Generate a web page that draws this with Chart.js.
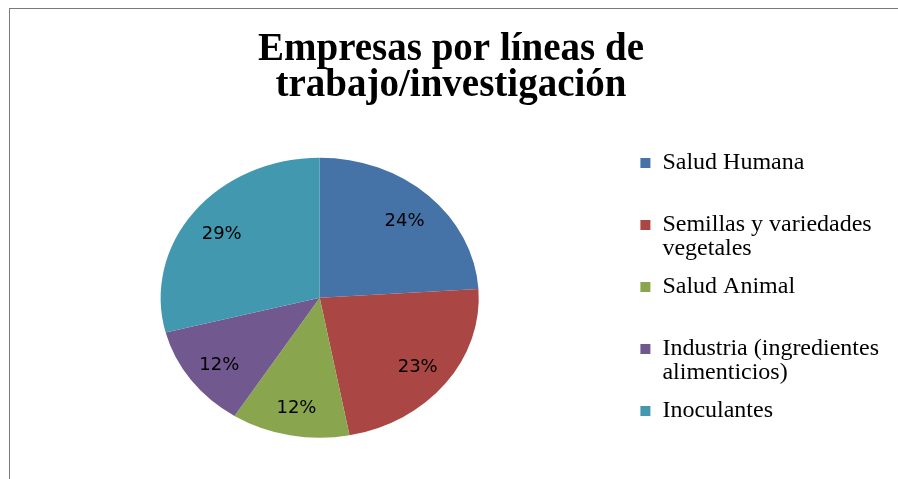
<!DOCTYPE html>
<html>
<head>
<meta charset="utf-8">
<script src="https://cdn.jsdelivr.net/npm/chart.js@4.4.0/dist/chart.umd.min.js"></script>
<style>
  html, body { margin: 0; padding: 0; background: #fff; }
  #wrap { position: relative; width: 898px; height: 479px; }
  #marco { position: absolute; left: 9px; top: 8px; right: 0; bottom: 0;
           border-top: 1px solid #7a7a7a; border-left: 1px solid #7a7a7a; pointer-events: none; }
</style>
</head>
<body>
<div id="wrap">
  <canvas id="pieChart" width="898" height="479"></canvas>
  <div id="marco"></div>
</div>
<script>
// datos
const categorias = [
    ['Salud Humana', ''],
    ['Semillas y variedades', 'vegetales'],
    ['Salud Animal', ''],
    ['Industria (ingredientes', 'alimenticios)'],
    ['Inoculantes', '']
];
const porcentajes = [24, 23, 12, 12, 29];
const colores = ['#4572A7', '#AA4643', '#89A54E', '#71588F', '#4198AF'];
const titulo = ['Empresas por líneas de', 'trabajo/investigación'];

const estirarX = 1.136;   // el pastel original sale ovalado
const radioEtiqueta = 0.78;

// estira el pastel en horizontal y pone los porcentajes
const pastelOvalado = {
    id: 'pastelOvalado',
    beforeDatasetsDraw(chart) {
        const arco = chart.getDatasetMeta(0).data[0];
        const ctx = chart.ctx;
        ctx.save();
        ctx.translate(arco.x, 0);
        ctx.scale(estirarX, 1);
        ctx.translate(-arco.x, 0);
    },
    afterDatasetsDraw(chart) {
        const ctx = chart.ctx;
        ctx.restore();
        ctx.save();
        ctx.font = '18px "DejaVu Sans"';
        ctx.fillStyle = '#000';
        ctx.textAlign = 'center';
        ctx.textBaseline = 'middle';
        chart.getDatasetMeta(0).data.forEach((arco, i) => {
            const medio = (arco.startAngle + arco.endAngle) / 2;
            const r = arco.outerRadius * radioEtiqueta;
            const x = arco.x + Math.cos(medio) * r * estirarX;
            const y = arco.y + Math.sin(medio) * r + 3;
            ctx.fillText(porcentajes[i] + '%', x, y);
        });
        ctx.restore();
    }
};

const ctxPie = document.getElementById('pieChart').getContext('2d');
const pieChart = new Chart(ctxPie, {
    type: 'pie',
    data: {
        labels: categorias,
        datasets: [{
            data: porcentajes,
            backgroundColor: colores,
            borderWidth: 0,
            radius: 140
        }]
    },
    options: {
        responsive: false,
        animation: false,
        layout: {
            padding: { left: 13, right: 9, top: 0, bottom: 18 }
        },
        plugins: {
            title: {
                display: true,
                text: titulo,
                color: '#000',
                font: { family: '"Liberation Serif"', size: 39, weight: 'bold', lineHeight: 0.93 },
                padding: { top: 32, bottom: 30 }
            },
            legend: {
                position: 'right',
                align: 'end',
                labels: {
                    boxWidth: 10,
                    boxHeight: 10,
                    padding: 14,
                    color: '#000',
                    font: { family: '"Liberation Serif"', size: 24, lineHeight: 1.0 }
                }
            },
            tooltip: { enabled: false }
        }
    },
    plugins: [pastelOvalado]
});
</script>
</body>
</html>
